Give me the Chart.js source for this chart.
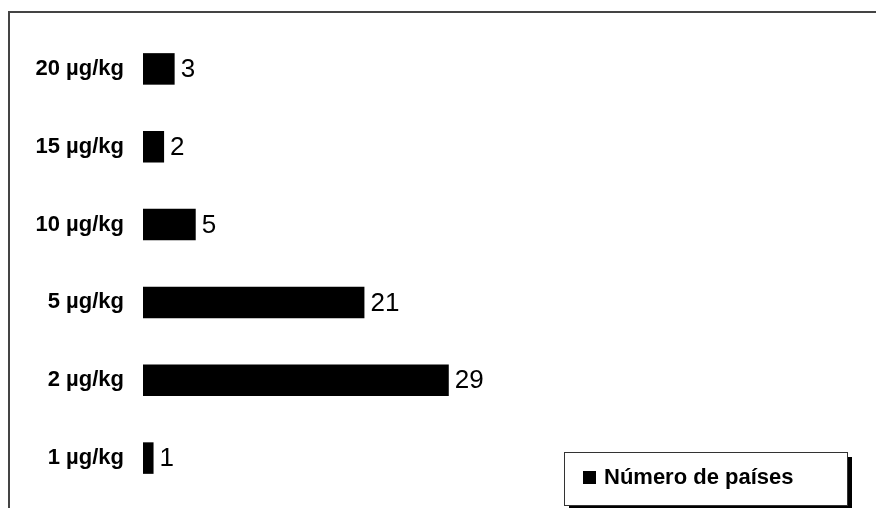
<!DOCTYPE html>
<html>
<head>
<meta charset="utf-8">
<script src="https://cdn.jsdelivr.net/npm/chart.js@4/dist/chart.umd.min.js"></script>
<style>
  html, body { margin: 0; padding: 0; background: #fff; }
  #wrap { width: 876px; height: 508px; }
</style>
</head>
<body>
<div id="wrap"><canvas id="myChart" width="876" height="508"></canvas></div>
<script>
var labels = ["20 µg/kg", "15 µg/kg", "10 µg/kg", "5 µg/kg", "2 µg/kg", "1 µg/kg"];
var countries = [3, 2, 5, 21, 29, 1];
var seriesName = "Número de países";

var fontFamily = "Arial, 'Liberation Sans', sans-serif";

// frame round the chart (only top and left edges show)
const framePlugin = {
  id: "frame",
  beforeDraw(chart) {
    const ctx = chart.ctx;
    ctx.save();
    ctx.fillStyle = "#fff";
    ctx.fillRect(0, 0, chart.width, chart.height);
    ctx.strokeStyle = "#444";
    ctx.lineWidth = 2;
    ctx.beginPath();
    ctx.moveTo(9, chart.height + 5);
    ctx.lineTo(9, 12);
    ctx.lineTo(chart.width + 5, 12);
    ctx.stroke();
    ctx.restore();
  },
};

// value next to each bar
const valuePlugin = {
  id: "values",
  afterDatasetsDraw(chart) {
    const ctx = chart.ctx;
    const meta = chart.getDatasetMeta(0);
    ctx.save();
    ctx.font = "26px " + fontFamily;
    ctx.fillStyle = "#000";
    ctx.textBaseline = "middle";
    ctx.textAlign = "left";
    meta.data.forEach((bar, i) => {
      ctx.fillText(String(chart.data.datasets[0].data[i]), bar.x + 6, bar.y + 1);
    });
    ctx.restore();
  },
};

// legend box with drop shadow
const legendBoxPlugin = {
  id: "legendBox",
  afterDraw(chart) {
    const ctx = chart.ctx;
    const x = 564, y = 452, w = 283, h = 53;
    ctx.save();
    ctx.fillStyle = "#000";
    ctx.fillRect(x + 5, y + 5, w, h);
    ctx.fillStyle = "#fff";
    ctx.fillRect(x, y, w, h);
    ctx.strokeStyle = "#333";
    ctx.lineWidth = 1;
    ctx.strokeRect(x + 0.5, y + 0.5, w, h);
    ctx.fillStyle = chart.data.datasets[0].backgroundColor;
    ctx.fillRect(583, 471, 13, 13);
    ctx.font = "bold 22px " + fontFamily;
    ctx.textBaseline = "middle";
    ctx.fillText(chart.data.datasets[0].label, 604, 478);
    ctx.restore();
  },
};

var canvas = document.getElementById("myChart");
var myChart = new Chart(canvas, {
  type: "bar",
  data: {
    labels: labels,
    datasets: [
      {
        label: seriesName,
        data: countries,
        backgroundColor: "#000",
        borderWidth: 0,
        categoryPercentage: 0.45,
        barPercentage: 0.9,
      },
    ],
  },
  options: {
    indexAxis: "y",
    responsive: false,
    animation: false,
    layout: { padding: { left: 0, right: 16, top: 30, bottom: 11 } },
    plugins: {
      legend: { display: false },
      tooltip: { enabled: false },
    },
    scales: {
      x: {
        display: false,
        min: 0,
        max: 68,
      },
      y: {
        grid: { display: false, drawTicks: false },
        border: { display: false },
        ticks: {
          color: "#000",
          padding: 19,
          font: { family: fontFamily, size: 22, weight: "bold" },
        },
        afterFit(scale) {
          scale.width = 143;
          // label padding would otherwise push the plot area in
          scale.paddingTop = 0;
          scale.paddingBottom = 0;
        },
      },
    },
  },
  plugins: [framePlugin, valuePlugin, legendBoxPlugin],
});
</script>
</body>
</html>
